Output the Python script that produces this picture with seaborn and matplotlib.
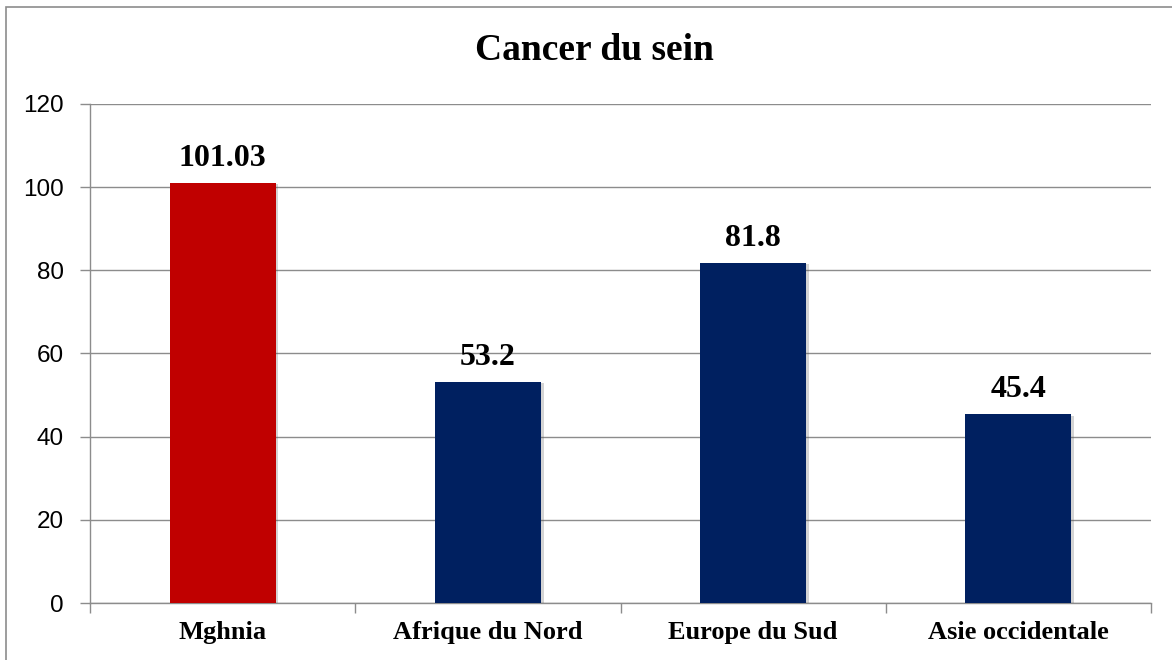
import matplotlib
matplotlib.use("Agg")
import matplotlib.pyplot as plt
import matplotlib.patheffects as pe
from matplotlib.patches import Rectangle
from matplotlib.ticker import FixedLocator
import pandas as pd
import seaborn as sns

# chart data
categories = ["Mghnia", "Afrique du Nord", "Europe du Sud", "Asie occidentale"]
values = [101.03, 53.2, 81.8, 45.4]
value_labels = ["101.03", "53.2", "81.8", "45.4"]
bar_colors = ["#C00000", "#002060", "#002060", "#002060"]
y_ticks = [0, 20, 40, 60, 80, 100, 120]

df = pd.DataFrame({"Region": categories, "Taux": values})

sns.set_theme(style="white")
plt.rcParams["font.family"] = ["Liberation Serif", "DejaVu Serif"]
plt.rcParams["text.color"] = "black"

fig = plt.figure(figsize=(11.72, 6.6), dpi=100)
ax = fig.add_axes([90 / 1172, 1 - 603 / 660, (1151 - 90) / 1172, (603 - 104) / 660])

sns.barplot(data=df, x="Region", y="Taux", hue="Region", palette=bar_colors,
            width=0.4, legend=False, ax=ax, saturation=1, zorder=3,
            edgecolor="none", linewidth=0)

# soft shadow like the office chart
for bar in ax.patches:
    bar.set_path_effects([pe.SimplePatchShadow(offset=(2, -1), alpha=0.25, shadow_rgbFace="#555555"),
                          pe.Normal()])

# value labels above each bar
for container, lab in zip(ax.containers, value_labels):
    ax.bar_label(container, labels=[lab], padding=7, fontsize=23, fontweight="bold",
                 color="black", family=["Liberation Serif"])

ax.set_ylim(0, 120)
ax.set_xlim(-0.5, len(categories) - 0.5)
ax.set_yticks(y_ticks)
ax.yaxis.grid(True, color="#8c8c8c", linewidth=1, zorder=0)
ax.set_axisbelow(True)

for lbl in ax.get_yticklabels():
    lbl.set_family(["Liberation Sans", "DejaVu Sans"])
    lbl.set_fontsize(17.5)
ax.tick_params(axis="y", length=7, width=1, color="#8c8c8c", pad=12, left=True, labelcolor="black")

ax.set_xticks(range(len(categories)))
ax.set_xticklabels(categories, fontsize=19, fontweight="bold", color="black")
ax.xaxis.set_minor_locator(FixedLocator([i - 0.5 for i in range(len(categories) + 1)]))
ax.tick_params(axis="x", which="major", length=0, pad=13)
ax.tick_params(axis="x", which="minor", length=7, width=1, color="#8c8c8c", bottom=True)

for side in ["top", "right"]:
    ax.spines[side].set_visible(False)
for side in ["left", "bottom"]:
    ax.spines[side].set_color("#8c8c8c")
    ax.spines[side].set_linewidth(1)

ax.set_xlabel("")
ax.set_ylabel("")

fig.text(594 / 1172, 1 - 50 / 660, "Cancer du sein", ha="center", va="center",
         fontsize=27, fontweight="bold", color="black")

fig.patches.append(Rectangle((6 / 1172, -0.05), 1.1, 1 - 7 / 660 + 0.05, transform=fig.transFigure,
                             fill=False, edgecolor="#8c8c8c", linewidth=1.2))

fig.savefig("out.png", dpi=100)
